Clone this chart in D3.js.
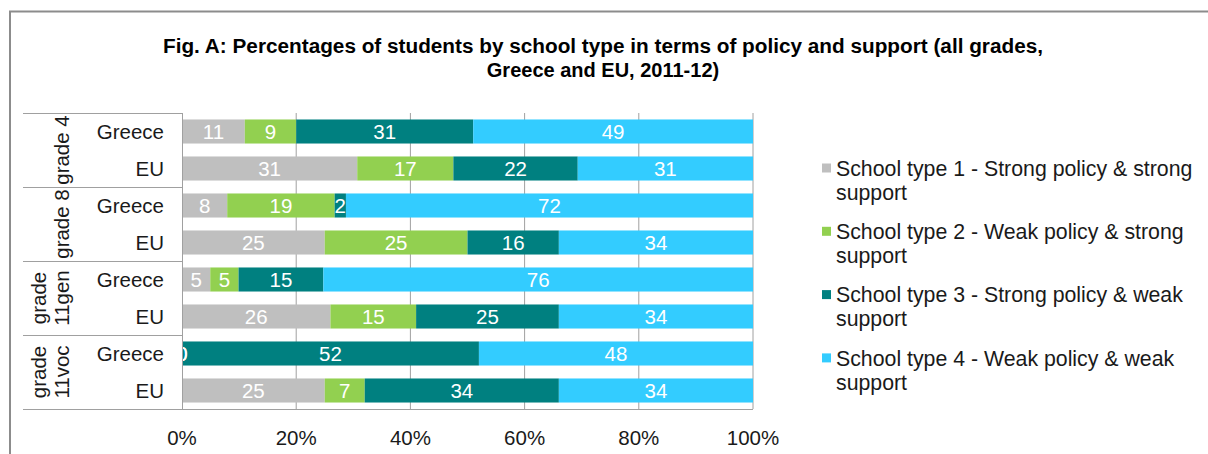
<!DOCTYPE html>
<html>
<head>
<meta charset="utf-8">
<script src="https://cdn.jsdelivr.net/npm/d3@7"></script>
<style>
  body { margin: 0; background: #fff; }
  text { font-family: 'Liberation Sans', Arial, sans-serif; }
</style>
</head>
<body>
<div id="chart"></div>
<script>
// Chart data.
var groups = ['grade 4', 'grade 8', 'grade 11gen', 'grade 11voc'];
var groupLines = [['grade 4'], ['grade 8'], ['grade', '11gen'], ['grade', '11voc']];
var countries = ['Greece', 'EU'];
var seriesNames = [
    ['School type 1 - Strong policy & strong', 'support'],
    ['School type 2 - Weak policy & strong', 'support'],
    ['School type 3 - Strong policy & weak', 'support'],
    ['School type 4 - Weak policy & weak', 'support']
];
// One value per row: grade 4 Greece, grade 4 EU, grade 8 Greece, ...
var type1 = [11, 31, 8, 25, 5, 26, 0, 25];
var type2 = [9, 17, 19, 25, 5, 15, 0, 7];
var type3 = [31, 22, 2, 16, 15, 25, 52, 34];
var type4 = [49, 31, 72, 34, 76, 34, 48, 34];
var tickValues = [0, 20, 40, 60, 80, 100];
var colors = ['#bfbfbf', '#92d050', '#008080', '#33ccff'];

var W = 1208, H = 454;
var fs = 20.5;
var svg = d3.select('#chart').append('svg')
    .attr('width', W)
    .attr('height', H);

// Outer frame (only top and left edges are visible).
svg.append('line').attr('x1', 9).attr('x2', W).attr('y1', 11.5).attr('y2', 11.5)
    .attr('stroke', '#8c8c8c').attr('stroke-width', 2);
svg.append('line').attr('x1', 10).attr('x2', 10).attr('y1', 11).attr('y2', H)
    .attr('stroke', '#8c8c8c').attr('stroke-width', 2);

// Title.
var title = svg.append('text')
    .attr('text-anchor', 'middle')
    .attr('font-weight', 'bold')
    .attr('font-size', 20)
    .attr('fill', '#000');
title.append('tspan').attr('x', 603).attr('y', 53)
    .attr('textLength', 880).attr('lengthAdjust', 'spacingAndGlyphs')
    .text('Fig. A: Percentages of students by school type in terms of policy and support (all grades,');
title.append('tspan').attr('x', 603).attr('y', 77)
    .text('Greece and EU, 2011-12)');

// Build rows and normalise them (100% stacked bars).
var rows = [];
groups.forEach(function (g, gi) {
    countries.forEach(function (c, ci) {
        var i = gi * 2 + ci;
        rows.push({key: g + '|' + c, group: g, country: c,
                   v: [type1[i], type2[i], type3[i], type4[i]]});
    });
});

var xScale = d3.scaleLinear().domain([0, 100]).range([182, 753]);
var yScale = d3.scaleBand().domain(rows.map(function (d) {return d.key;}))
    .range([113, 409]).paddingInner(0.35).paddingOuter(0.175);

// Gridlines.
svg.append('g').selectAll('line')
    .data(tickValues.slice(1))
    .enter().append('line')
    .attr('x1', function (d) {return xScale(d);})
    .attr('x2', function (d) {return xScale(d);})
    .attr('y1', 113).attr('y2', 409)
    .attr('stroke', '#a0a0a0').attr('stroke-width', 1);

// Stacked segments.
var segs = [];
rows.forEach(function (r) {
    var total = d3.sum(r.v), acc = 0;
    r.v.forEach(function (v, s) {
        segs.push({row: r.key, s: s, v: v, x0: acc / total * 100, x1: (acc + v) / total * 100});
        acc += v;
    });
});

svg.append('g').selectAll('rect')
    .data(segs)
    .enter().append('rect')
    .attr('x', function (d) {return xScale(d.x0);})
    .attr('width', function (d) {return xScale(d.x1) - xScale(d.x0);})
    .attr('y', function (d) {return yScale(d.row);})
    .attr('height', yScale.bandwidth())
    .attr('fill', function (d) {return colors[d.s];});

svg.append('g').selectAll('text')
    .data(segs)
    .enter().append('text')
    .attr('x', function (d) {return xScale((d.x0 + d.x1) / 2);})
    .attr('y', function (d) {return yScale(d.row) + yScale.bandwidth() / 2;})
    .attr('dy', '0.36em')
    .attr('text-anchor', 'middle')
    .attr('font-size', fs)
    .attr('fill', '#fff')
    .text(function (d) {return d.v;});

// Category table on the left.
var tbl = svg.append('g').attr('stroke', '#a0a0a0').attr('stroke-width', 1);
tbl.append('line').attr('x1', 182.5).attr('x2', 182.5).attr('y1', 113).attr('y2', 409);
[113, 187, 261, 335].forEach(function (y) {
    tbl.append('line').attr('x1', 23).attr('x2', 182.5).attr('y1', y + 0.5).attr('y2', y + 0.5);
});
tbl.append('line').attr('x1', 23).attr('x2', 753).attr('y1', 409.5).attr('y2', 409.5);

svg.append('g').selectAll('text')
    .data(rows)
    .enter().append('text')
    .attr('x', 164)
    .attr('y', function (d) {return yScale(d.key) + yScale.bandwidth() / 2;})
    .attr('dy', '0.36em')
    .attr('text-anchor', 'end')
    .attr('font-size', fs)
    .attr('fill', '#1a1a1a')
    .text(function (d) {return d.country;});

groups.forEach(function (g, gi) {
    var yc = (yScale(g + '|Greece') + yScale(g + '|EU') + yScale.bandwidth()) / 2;
    var lines = groupLines[gi];
    lines.forEach(function (t, li) {
        var xc = lines.length === 1 ? 62 : 39 + li * 23;
        svg.append('text')
            .attr('transform', 'translate(' + xc + ',' + yc + ') rotate(-90)')
            .attr('dy', '0.36em')
            .attr('text-anchor', 'middle')
            .attr('font-size', fs)
            .attr('fill', '#1a1a1a')
            .text(t);
    });
});

// X axis labels.
svg.append('g').selectAll('text')
    .data(tickValues)
    .enter().append('text')
    .attr('x', function (d) {return xScale(d);})
    .attr('y', 445)
    .attr('text-anchor', 'middle')
    .attr('font-size', fs)
    .attr('fill', '#1a1a1a')
    .text(function (d) {return d + '%';});

// Legend.
var legend = svg.append('g').selectAll('g')
    .data(seriesNames)
    .enter().append('g')
    .attr('transform', function (d, i) {return 'translate(822,' + (168 + i * 63.3) + ')';});
legend.append('rect')
    .attr('x', 0).attr('y', -4.5).attr('width', 9).attr('height', 9)
    .attr('fill', function (d, i) {return colors[i];});
legend.append('text')
    .attr('x', 14)
    .attr('font-size', 21.3)
    .attr('fill', '#1a1a1a')
    .selectAll('tspan')
    .data(function (d) {return d;})
    .enter().append('tspan')
    .attr('x', 14)
    .attr('y', function (d, i) {return i * 24;})
    .attr('dy', '0.36em')
    .text(function (d) {return d;});
</script>
</body>
</html>
